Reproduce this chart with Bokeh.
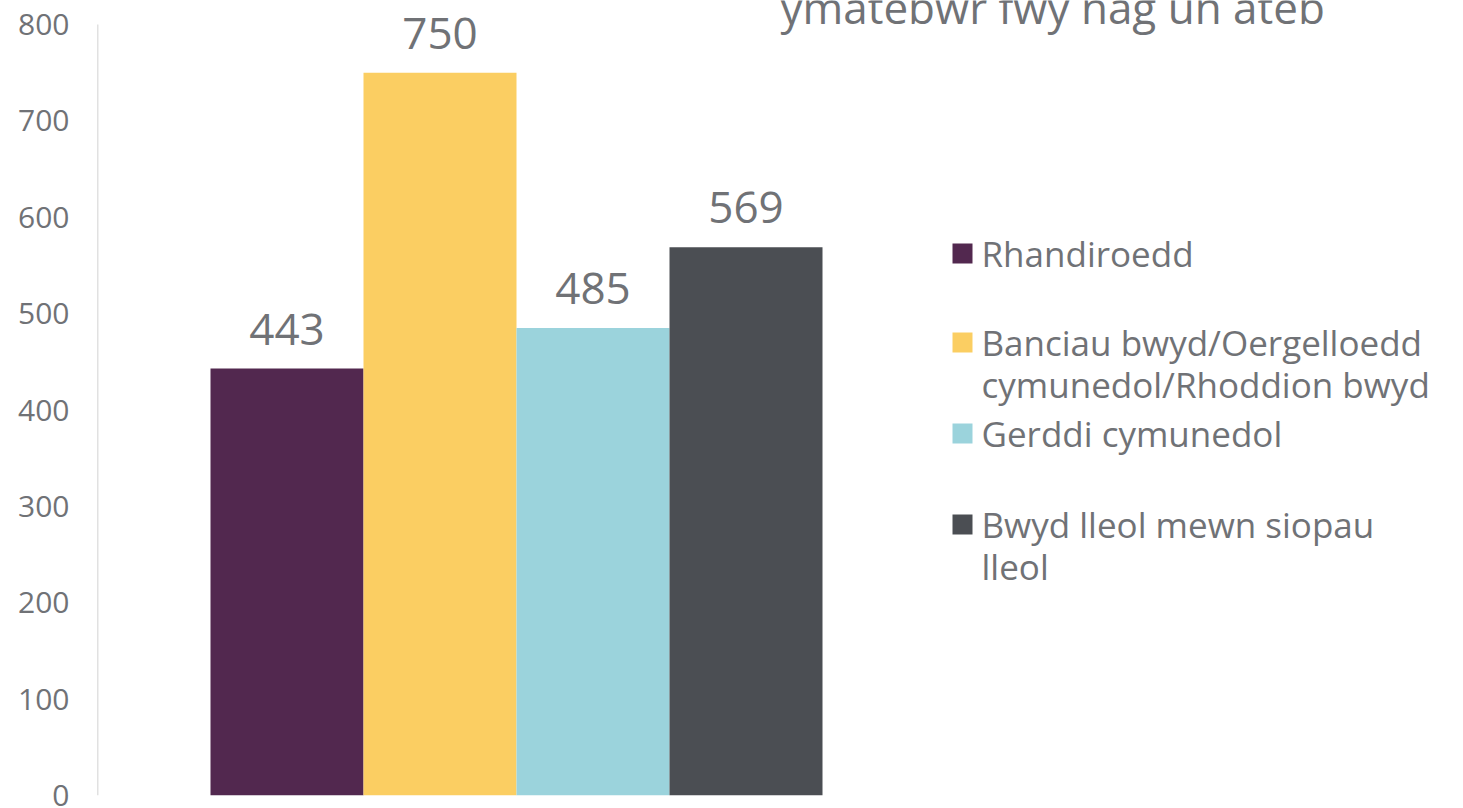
from bokeh.plotting import figure
from bokeh.models import Range1d, ColumnDataSource, FixedTicker, Label, LabelSet
from bokeh.core.properties import value
from bokeh.embed import file_html
from bokeh.resources import INLINE

# ---- data ----
categories = ["Rhandiroedd",
              "Banciau bwyd/Oergelloedd cymunedol/Rhoddion bwyd",
              "Gerddi cymunedol",
              "Bwyd lleol mewn siopau lleol"]
legend_lines = [["Rhandiroedd"],
                ["Banciau bwyd/Oergelloedd", "cymunedol/Rhoddion bwyd"],
                ["Gerddi cymunedol"],
                ["Bwyd lleol mewn siopau", "lleol"]]
values = [443, 750, 485, 569]
colors = ["#52284f", "#fbce62", "#9bd3dc", "#4b4e53"]
y_ticks = [0, 100, 200, 300, 400, 500, 600, 700, 800]
axis_top = 800
title_text = "ymatebwr fwy nag un ateb"

# ---- layout ----
W, H = 1463, 808
FL, FB = 97, 795
Y800_PX = 24          # pixel row of value 800
BAR_PX = 153.0
PX_PER_UNIT = (FB - Y800_PX) / 800.0
Y_MAX = FB / PX_PER_UNIT   # frame reaches top of page
x0 = 0.5 - (210 - FL) / BAR_PX
x1 = x0 + (W - FL) / BAR_PX

def px2x(px):
    return x0 + (px - FL) / BAR_PX

def px2y(py):
    return (FB - py) / PX_PER_UNIT

TEXT = "#707276"
FONT = "Open Sans"

p = figure(width=W, height=H, x_range=Range1d(x0, x1), y_range=Range1d(0, Y_MAX),
           output_backend="svg", toolbar_location=None,
           min_border_left=FL, min_border_right=0, min_border_top=0,
           min_border_bottom=H - FB)
p.outline_line_color = None
p.xgrid.visible = False
p.ygrid.visible = False
p.xaxis.visible = False
p.background_fill_color = "white"
p.border_fill_color = "white"

ya = p.yaxis[0]
ya.ticker = FixedTicker(ticks=y_ticks)
ya.axis_line_color = None
ya.major_tick_line_color = None
ya.minor_tick_line_color = None
ya.major_label_standoff = 22
ya.major_label_text_font = FONT
ya.major_label_text_font_size = "30px"
ya.major_label_text_color = TEXT

# axis line, from 0 to the top tick only
p.segment(x0=[x0], y0=[0], x1=[x0], y1=[axis_top], line_color="#c4c4c4",
          line_width=1.5)

xs = [1, 2, 3, 4]
src = ColumnDataSource(dict(x=xs, top=values, color=colors,
                            label=[str(v) for v in values], cat=categories))
p.vbar(x="x", top="top", bottom=0, width=1.0, fill_color="color",
       line_color=None, source=src)
p.add_layout(LabelSet(x="x", y="top", text="label", source=src,
                      text_align="center", text_baseline="alphabetic",
                      y_offset=24, text_color=TEXT, text_font=value(FONT),
                      text_font_size="44px"))

# title (partially cut by top of page as in reference)
p.add_layout(Label(x=px2x(780), y=px2y(6), text=title_text,
                   text_align="left", text_baseline="alphabetic",
                   text_color=TEXT, text_font=FONT,
                   text_font_size="44px"))

# legend
item_y = [253, 342, 433, 524]
LINE_H = 42
sq_x, sq_y, tx, ty, tt = [], [], [], [], []
for lines, yp in zip(legend_lines, item_y):
    sq_x.append(px2x(962))
    sq_y.append(px2y(yp))
    for i, ln in enumerate(lines):
        tx.append(px2x(981))
        ty.append(px2y(yp + i * LINE_H))
        tt.append(ln)
p.scatter(x=sq_x, y=sq_y, marker="square", size=20, fill_color=colors,
          line_color=None)
p.text(x=tx, y=ty, text=tt, text_align="left", text_baseline="middle",
       text_color=TEXT, text_font=value(FONT), text_font_size="35px")

open("out.html", "w").write(file_html(p, INLINE))
